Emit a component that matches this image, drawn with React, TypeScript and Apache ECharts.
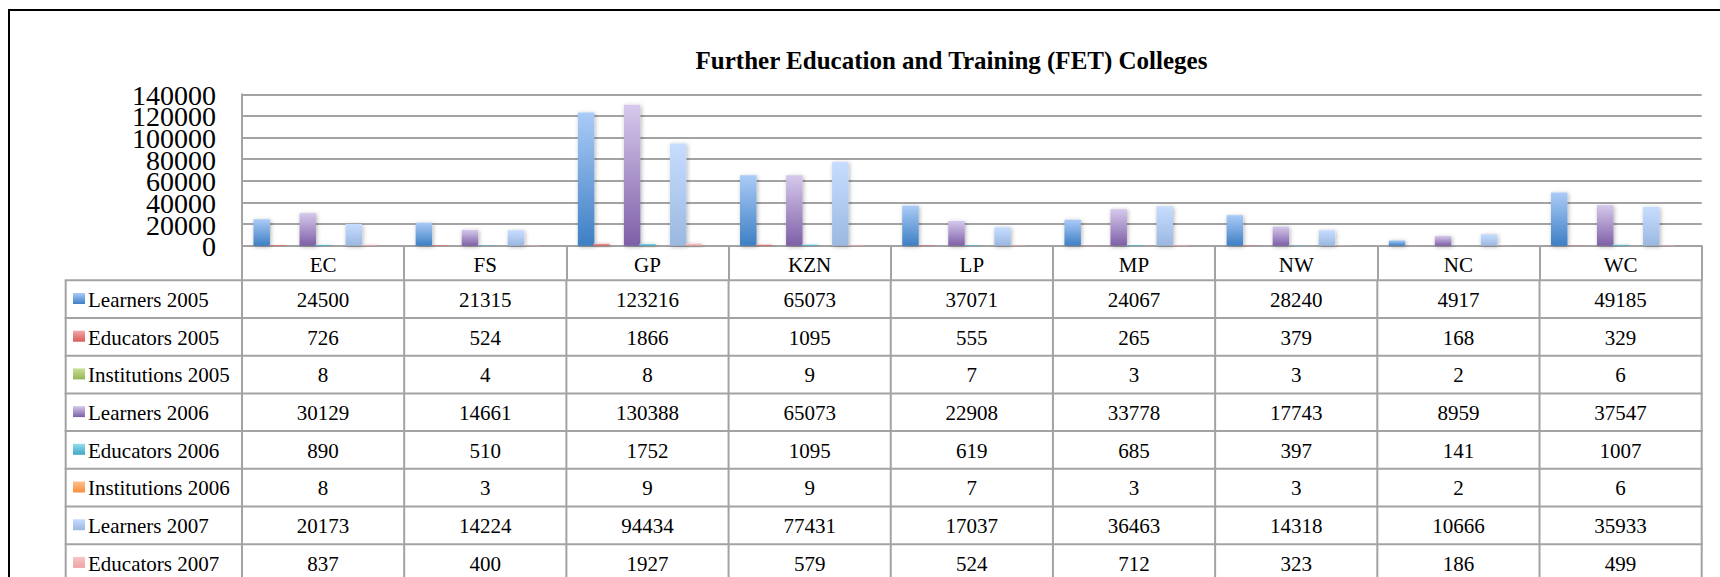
import React, { useEffect, useRef } from "react";
import * as echarts from "echarts";

const titleText = "Further Education and Training (FET) Colleges";
const categories = ["EC", "FS", "GP", "KZN", "LP", "MP", "NW", "NC", "WC"];
const yTicks = [0, 20000, 40000, 60000, 80000, 100000, 120000, 140000];

const seriesNames = [
  "Learners 2005",
  "Educators 2005",
  "Institutions 2005",
  "Learners 2006",
  "Educators 2006",
  "Institutions 2006",
  "Learners 2007",
  "Educators 2007",
  "Institutions 2007",
];

const learners2005 = [24500, 21315, 123216, 65073, 37071, 24067, 28240, 4917, 49185];
const educators2005 = [726, 524, 1866, 1095, 555, 265, 379, 168, 329];
const institutions2005 = [8, 4, 8, 9, 7, 3, 3, 2, 6];
const learners2006 = [30129, 14661, 130388, 65073, 22908, 33778, 17743, 8959, 37547];
const educators2006 = [890, 510, 1752, 1095, 619, 685, 397, 141, 1007];
const institutions2006 = [8, 3, 9, 9, 7, 3, 3, 2, 6];
const learners2007 = [20173, 14224, 94434, 77431, 17037, 36463, 14318, 10666, 35933];
const educators2007 = [837, 400, 1927, 579, 524, 712, 323, 186, 499];
// row lies below the visible picture; estimated
const institutions2007 = [8, 4, 8, 9, 7, 3, 3, 2, 6];

const seriesData = [
  learners2005,
  educators2005,
  institutions2005,
  learners2006,
  educators2006,
  institutions2006,
  learners2007,
  educators2007,
  institutions2007,
];

const colorTop = ["#abcbf7", "#f3a9a9", "#c9e09a", "#d6c9ec", "#93dcee", "#fcc08c", "#c7ddff", "#f8c4c4", "#dbe9bc"];
const colorBottom = ["#3d7fc4", "#d95a57", "#93b552", "#7e5fa7", "#3fa8c4", "#f68f3e", "#9bb8e0", "#eea3a3", "#bcd38e"];

const FONT = "'Liberation Serif', 'Times New Roman', serif";
const LINE = "#a3a3a3";

const W = 1720;
const H = 577;
const gridLeft = 242;
const gridTop = 94.3;
const gridRight = 18.3;
const gridBottom = H - 245.7;
const tableLeft = 65.7;
const rowTop0 = 280.3;
const rowH = 37.7;

function grad(i: number) {
  return new echarts.graphic.LinearGradient(0, 0, 0, 1, [
    { offset: 0, color: colorTop[i] },
    { offset: 1, color: colorBottom[i] },
  ]);
}

export default function App() {
  const ref = useRef<HTMLDivElement>(null);

  useEffect(() => {
    if (!ref.current) return;
    const chart = echarts.init(ref.current, null, { renderer: "svg" });
    chart.setOption({
      animation: false,
      backgroundColor: "#ffffff",
      grid: { left: gridLeft, top: gridTop, right: gridRight, bottom: gridBottom, containLabel: false },
      xAxis: {
        type: "category",
        data: categories,
        boundaryGap: true,
        axisLine: { show: true, lineStyle: { color: LINE, width: 2 } },
        axisTick: { show: true, inside: false, length: 34.5, alignWithLabel: false, lineStyle: { color: LINE, width: 2 } },
        axisLabel: { show: true, margin: 9, fontFamily: FONT, fontSize: 21, color: "#000" },
        splitLine: { show: false },
      },
      yAxis: {
        type: "value",
        min: yTicks[0],
        max: yTicks[yTicks.length - 1],
        interval: yTicks[1] - yTicks[0],
        axisLine: { show: true, lineStyle: { color: LINE, width: 2 } },
        axisTick: { show: false },
        axisLabel: { show: false },
        splitLine: { show: true, lineStyle: { color: LINE, width: 2 } },
      },
      series: seriesNames.map((name, i) => ({
        name,
        type: "bar",
        data: seriesData[i],
        barWidth: 16.5,
        barGap: "-7%",
        itemStyle: {
          color: grad(i),
          shadowBlur: 4,
          shadowColor: "rgba(0,0,0,0.3)",
          shadowOffsetX: 1,
          shadowOffsetY: 1,
        },
      })),
    });

    const xs = categories.map((c) => chart.convertToPixel({ xAxisIndex: 0 }, c) as number);
    const step = xs[1] - xs[0];
    const bounds = [xs[0] - step / 2, ...xs.map((x) => x + step / 2)];
    const right = bounds[bounds.length - 1];
    const bottomY = rowTop0 + rowH * seriesNames.length;

    const els: any[] = [];
    els.push({
      type: "rect",
      shape: { x: 9, y: 10, width: 1900, height: 800 },
      style: { fill: "none", stroke: "#000", lineWidth: 2 },
      silent: true,
    });
    els.push({
      type: "text",
      x: 951.5,
      y: 60.5,
      style: {
        text: titleText,
        font: `bold 25px ${FONT}`,
        fill: "#000",
        textAlign: "center",
        textVerticalAlign: "middle",
      },
    });
    // y-axis tick labels, positioned by the value axis
    yTicks.forEach((v) => {
      const y = chart.convertToPixel({ yAxisIndex: 0 }, v) as number;
      els.push({
        type: "text",
        x: gridLeft - 26,
        y: y + 1,
        style: { text: String(v), font: `28px ${FONT}`, fill: "#000", textAlign: "right", textVerticalAlign: "middle" },
      });
    });
    for (let k = 0; k <= seriesNames.length; k++) {
      const y = rowTop0 + k * rowH;
      els.push({
        type: "line",
        shape: { x1: tableLeft - 1, y1: y, x2: right + 1, y2: y },
        style: { stroke: LINE, lineWidth: 2 },
      });
    }
    [tableLeft, ...bounds].forEach((x) => {
      els.push({
        type: "line",
        shape: { x1: x, y1: rowTop0, x2: x, y2: bottomY },
        style: { stroke: LINE, lineWidth: 2 },
      });
    });
    seriesNames.forEach((name, r) => {
      const top = rowTop0 + r * rowH;
      els.push({
        type: "rect",
        shape: { x: 73, y: top + 12.7, width: 12, height: 11 },
        style: { fill: grad(r) },
      });
      els.push({
        type: "text",
        x: 88,
        y: top + 19.5,
        style: { text: name, font: `21px ${FONT}`, fill: "#000", textAlign: "left", textVerticalAlign: "middle" },
      });
      seriesData[r].forEach((v, c) => {
        els.push({
          type: "text",
          x: xs[c],
          y: top + 19.5,
          style: { text: String(v), font: `21px ${FONT}`, fill: "#000", textAlign: "center", textVerticalAlign: "middle" },
        });
      });
    });
    chart.setOption({ graphic: els });

    return () => chart.dispose();
  }, []);

  return (
    <div
      ref={ref}
      style={{ position: "fixed", left: 0, top: 0, width: W, height: H, background: "#fff" }}
    />
  );
}
